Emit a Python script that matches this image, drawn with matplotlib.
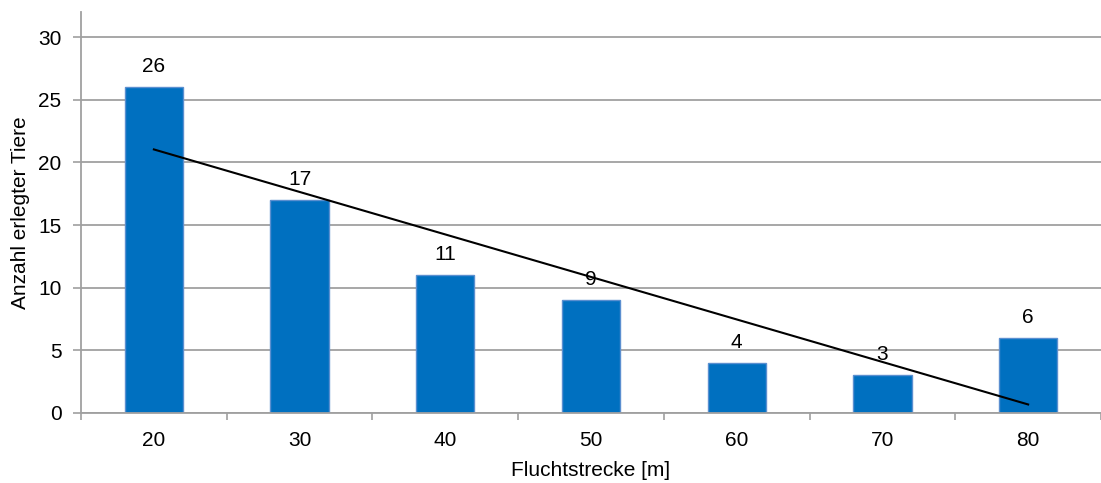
import numpy as np
import matplotlib.pyplot as plt

plt.rcParams['font.family'] = ['Liberation Sans', 'DejaVu Sans']

# Fluchtstrecke und Anzahl erlegter Tiere
strecke = ['20', '30', '40', '50', '60', '70', '80']
tiere = [26, 17, 11, 9, 4, 3, 6]

x = np.arange(len(strecke))
y = np.array(tiere)

fig = plt.figure(figsize=(11.01, 4.83), dpi=100)
ax = fig.add_axes([0.0736, 0.145, 0.9264, 0.83])

ax.bar(x, y, width=0.4, color='#0070C0', edgecolor='#5b8fd0', linewidth=1, zorder=2)

for xi, yi in zip(x, y):
    ax.annotate(str(yi), (xi, yi), xytext=(0, 8), textcoords='offset points',
                ha='center', va='bottom', fontsize=15)

# lineare Trendlinie
m, b = np.polyfit(x, y, 1)
ax.plot(x[[0, -1]], m * x[[0, -1]] + b, color='black', linewidth=1.5, zorder=3)

ax.set_xlim(-0.5, 6.45)
ax.set_ylim(0, 32)
ax.set_yticks(range(0, 31, 5))
ax.set_xticks(x)
ax.set_xticklabels(strecke)
ax.set_xticks(np.arange(-0.5, 6.6, 1), minor=True)
ax.tick_params(axis='x', which='major', length=0, labelsize=15, pad=13)
ax.tick_params(axis='x', which='minor', length=5, width=1.2, color='#a0a0a0')
ax.tick_params(axis='y', length=6, width=1.2, color='#a0a0a0', labelsize=15, pad=8)

ax.grid(axis='y', color='#a0a0a0', linewidth=1.3, zorder=0)
ax.set_axisbelow(True)
for s in ['top', 'right']:
    ax.spines[s].set_visible(False)
for s in ['left', 'bottom']:
    ax.spines[s].set_color('#a0a0a0')
    ax.spines[s].set_linewidth(1.3)

ax.set_xlabel('Fluchtstrecke [m]', fontsize=15, labelpad=8)
ax.set_ylabel('Anzahl erlegter Tiere', fontsize=15, labelpad=6)

fig.savefig('out.png', dpi=100)
